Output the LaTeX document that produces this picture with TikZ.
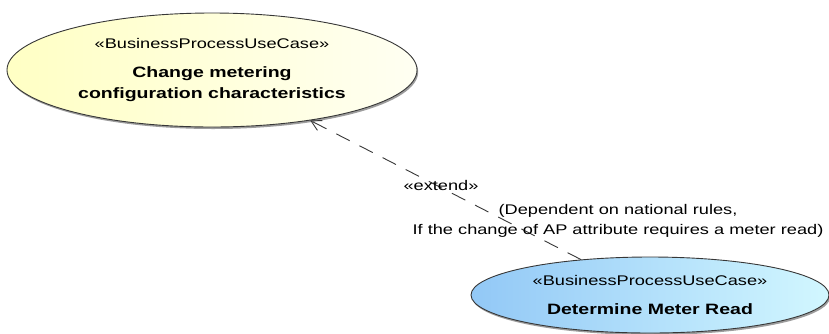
\documentclass[tikz,border=0pt]{standalone}
\usepackage{fontspec}
\newfontfamily\umlfont[FakeStretch=1.3]{Liberation Sans}
\usepackage{tikz}
\usetikzlibrary{arrows.meta,positioning,shapes,shadows}
\definecolor{ucyellowL}{RGB}{255,255,196}
\definecolor{ucyellowR}{RGB}{255,255,242}
\definecolor{ucblueL}{RGB}{146,200,246}
\definecolor{ucblueR}{RGB}{210,247,255}
\definecolor{ucline}{RGB}{55,55,55}
\newcommand\ucname[1]{{\fontsize{15}{21}\selectfont\bfseries #1}}

\begin{document}
\begin{tikzpicture}[x=1pt,y=-1pt,
  use case/.style={ellipse,draw=ucline,line width=0.9pt,inner sep=0pt,align=center,
    font=\umlfont\fontsize{14}{21}\selectfont,
    drop shadow={shadow xshift=1.2pt,shadow yshift=-2pt,fill=black!55,opacity=.7}},
  extend line/.style={draw=ucline,line width=0.9pt,dash pattern=on 15pt off 11pt,
    -{Straight Barb[length=10pt,width=11pt]}},
  note/.style={font=\umlfont\fontsize{14}{20}\selectfont,align=center,inner sep=0pt}]
\useasboundingbox (0,0) rectangle (829,333);
% use cases
\node[use case,minimum width=410pt,minimum height=114pt,left color=ucyellowL,right color=ucyellowR]
  (cmc) at (212,70) {«BusinessProcessUseCase»\\[8pt]\ucname{Change metering}\\\ucname{configuration characteristics}};
\node[use case,minimum width=358pt,minimum height=76pt,left color=ucblueL,right color=ucblueR]
  (dmr) at (650,295) {«BusinessProcessUseCase»\\[8pt]\ucname{Determine Meter Read}};
% extend relation
\draw[extend line] (dmr) -- (cmc);
\node[note] (ext) at (441,185) {«extend»};
\node[note] (cond) at (618,221) {(Dependent on national rules,\\If the change of AP attribute requires a meter read)};
\end{tikzpicture}
\end{document}
